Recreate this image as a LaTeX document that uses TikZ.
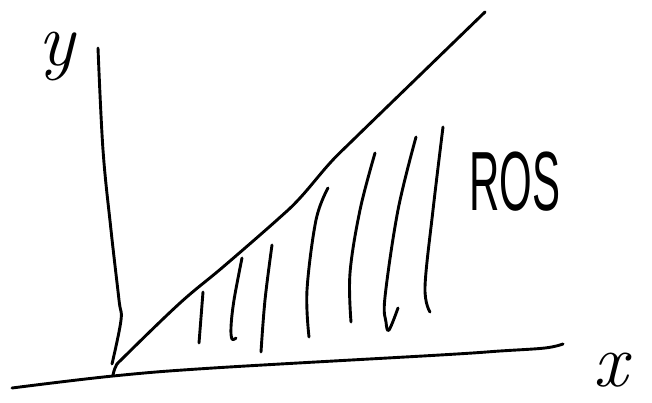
\documentclass[tikz,border=0pt]{standalone}
\usepackage{fontspec}
\newfontfamily\handsans{Liberation Sans}
\begin{document}
\begin{tikzpicture}[x=1pt,y=-1pt,
  pen/.style={line width=2.9pt,line cap=round,line join=round},
  lbl/.style={inner sep=0pt,font=\fontsize{76}{84}\selectfont\itshape}]
\useasboundingbox (0,0) rectangle (652,402);
% x axis
\draw[pen] plot[smooth,tension=0.6] coordinates {(12,388) (113,376) (213,368) (440,355) (500,351) (545,348) (563,344)};
% y axis
\draw[pen] plot[smooth,tension=0.6] coordinates {(98,48) (103,150) (111,230) (119,300) (121,320) (112,364)};
% diagonal boundary
\draw[pen] plot[smooth,tension=0.6] coordinates {(113,375) (116,366) (124,357) (180,303) (223,267) (277,220) (300,198) (330,163) (353,140) (420,75) (485,12)};
% hatching
\draw[pen] (203,292) -- (199,343);
\draw[pen] plot[smooth,tension=0.6] coordinates {(242,258) (234,300) (231,327) (232,339) (236,338)};
\draw[pen] plot[smooth,tension=0.6] coordinates {(272,245) (265,300) (261,352)};
\draw[pen] plot[smooth,tension=0.6] coordinates {(328,188) (316,220) (307,290) (309,337)};
\draw[pen] plot[smooth,tension=0.6] coordinates {(375,153) (360,210) (350,273) (351,322)};
\draw[pen] plot[smooth,tension=0.6] coordinates {(416,137) (398,210) (385,297) (386,322) (389,330) (398,308)};
\draw[pen] plot[smooth,tension=0.6] coordinates {(443,127) (433,210) (425,287) (430,312)};
% labels
\node[lbl] (ylab) at (57,56) {y};
\node[lbl] (xlab) at (611,370) {x};
\node[inner sep=0pt,xscale=0.5,font=\fontsize{84}{90}\selectfont\handsans] (ros) at (515,182) {ROS};
\end{tikzpicture}
\end{document}
